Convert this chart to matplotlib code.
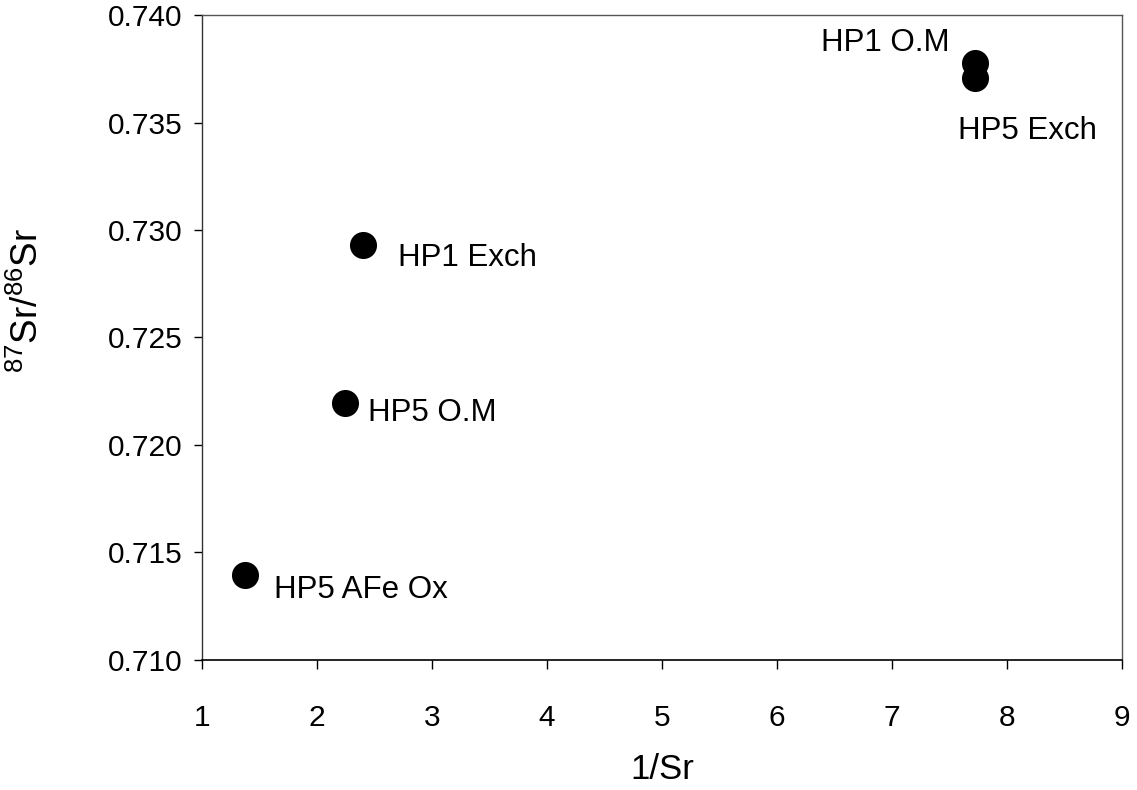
import matplotlib
matplotlib.use("Agg")
from matplotlib import pyplot as plt

plt.rcParams['font.family'] = ['Liberation Sans', 'DejaVu Sans']
plt.rcParams['mathtext.fontset'] = 'custom'
plt.rcParams['mathtext.rm'] = 'Liberation Sans'
plt.rcParams['mathtext.default'] = 'regular'

# 数据
names = ["HP1 O.M", "HP5 Exch", "HP1 Exch", "HP5 O.M", "HP5 AFe Ox"]
inv_sr = [7.72, 7.72, 2.40, 2.24, 1.37]
sr_ratio = [0.73775, 0.73706, 0.7293, 0.72196, 0.71395]
x_ticks = [1, 2, 3, 4, 5, 6, 7, 8, 9]
y_ticks = [0.710, 0.715, 0.720, 0.725, 0.730, 0.735, 0.740]

# label offsets in pixels (dx, dy, ha)
offsets = [(-25, 20, 'right'), (-17, -53, 'left'), (35, -13, 'left'),
           (23, -10, 'left'), (29, -15, 'left')]

fig = plt.figure(figsize=(11.37, 7.90), dpi=100)
ax = fig.add_axes([0.1777, 0.1646, 0.8091, 0.8164])

ax.scatter(inv_sr, sr_ratio, s=380, color='black', zorder=3, linewidths=0)

for name, x, y, (dx, dy, ha) in zip(names, inv_sr, sr_ratio, offsets):
    ax.annotate(name, (x, y), xytext=(dx, dy), textcoords='offset pixels',
                ha=ha, va='center', fontsize=22.5)

ax.set_xlim(1, 9)
ax.set_ylim(0.710, 0.740)
ax.set_xticks(x_ticks)
ax.set_yticks(y_ticks)
ax.set_yticklabels(["%.3f" % v for v in y_ticks])
ax.tick_params(axis='x', direction='out', length=6.5, width=1, pad=25.5, labelsize=21.5)
ax.tick_params(axis='y', direction='out', length=6, width=1, pad=8, labelsize=21.5)

ax.set_xlabel("1/Sr", fontsize=25, labelpad=15)
ax.set_ylabel("$^{87}$Sr/$^{86}$Sr", fontsize=26.5)
ax.yaxis.set_label_coords(-0.170, 0.558)

for side in ['top', 'right']:
    ax.spines[side].set_color('#555555')
    ax.spines[side].set_linewidth(1)
ax.spines['left'].set_color('#333333')
ax.spines['bottom'].set_color('black')
ax.spines['left'].set_linewidth(1)
ax.spines['bottom'].set_linewidth(1.2)

fig.savefig("out.png", dpi=100)
